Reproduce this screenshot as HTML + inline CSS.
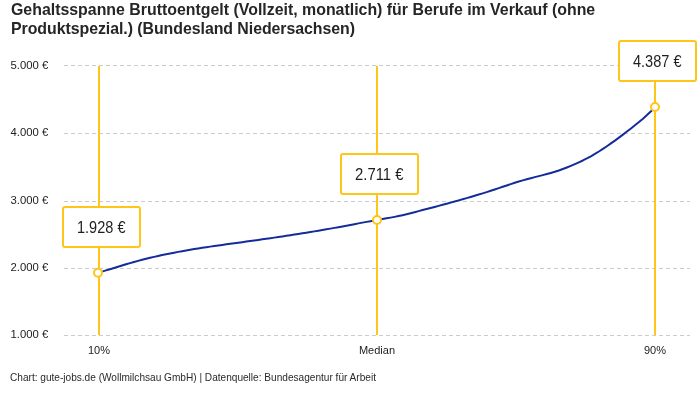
<!DOCTYPE html>
<html><head><meta charset="utf-8">
<style>
html,body{margin:0;padding:0;background:#fff;}
body{width:700px;height:400px;overflow:hidden;position:relative;font-family:"Liberation Sans",sans-serif;}
.title{position:absolute;left:11px;top:0px;font-size:15.9px;font-weight:bold;line-height:19.5px;color:#262626;white-space:nowrap;}
.foot{position:absolute;left:10px;top:370.5px;font-size:10.1px;line-height:14px;color:#2a2a2a;white-space:nowrap;}
svg{position:absolute;left:0;top:0;}
.wrap{position:absolute;left:0;top:0;width:700px;height:400px;will-change:transform;}
</style></head><body><div class="wrap">
<div class="title" style="top:0px">Gehaltsspanne Bruttoentgelt (Vollzeit, monatlich) für Berufe im Verkauf (ohne</div>
<div class="title" style="top:19px;letter-spacing:-0.05px">Produktspezial.) (Bundesland Niedersachsen)</div>
<svg width="700" height="400" viewBox="0 0 700 400">
<g stroke="#cccccc" stroke-width="1" stroke-dasharray="4 3" shape-rendering="crispEdges">
<line x1="64" y1="65.5" x2="690" y2="65.5"/>
<line x1="64" y1="133.5" x2="690" y2="133.5"/>
<line x1="64" y1="201.5" x2="690" y2="201.5"/>
<line x1="64" y1="268.5" x2="690" y2="268.5"/>
<line x1="64" y1="335.5" x2="690" y2="335.5"/>
</g>
<g font-family="Liberation Sans" font-size="11.3" fill="#222">
<text x="10.5" y="68.5">5.000 €</text>
<text x="10.5" y="135.5">4.000 €</text>
<text x="10.5" y="203.5">3.000 €</text>
<text x="10.5" y="270.5">2.000 €</text>
<text x="10.5" y="337.5">1.000 €</text>
</g>
<g stroke="#ffc517" stroke-width="2">
<line x1="99" y1="66" x2="99" y2="335"/>
<line x1="377" y1="66" x2="377" y2="335"/>
<line x1="655" y1="66" x2="655" y2="335"/>
</g>
<path d="M98.00,272.81 L102.01,271.62 L106.01,270.41 L110.02,269.18 L114.03,267.95 L118.04,266.71 L122.04,265.49 L126.05,264.29 L130.06,263.12 L134.06,261.99 L138.07,260.90 L142.08,259.84 L146.09,258.82 L150.09,257.84 L154.10,256.89 L158.11,255.97 L162.12,255.09 L166.12,254.25 L170.13,253.43 L174.14,252.65 L178.14,251.89 L182.15,251.16 L186.16,250.45 L190.17,249.76 L194.17,249.10 L198.18,248.45 L202.19,247.83 L206.19,247.21 L210.20,246.62 L214.21,246.03 L218.22,245.46 L222.22,244.89 L226.23,244.33 L230.24,243.78 L234.24,243.23 L238.25,242.68 L242.26,242.14 L246.27,241.59 L250.27,241.04 L254.28,240.48 L258.29,239.92 L262.29,239.36 L266.30,238.79 L270.31,238.21 L274.32,237.63 L278.32,237.04 L282.33,236.44 L286.34,235.84 L290.35,235.23 L294.35,234.61 L298.36,233.98 L302.37,233.34 L306.37,232.70 L310.38,232.04 L314.39,231.38 L318.40,230.70 L322.40,230.02 L326.41,229.32 L330.42,228.61 L334.42,227.89 L338.43,227.16 L342.44,226.42 L346.45,225.67 L350.45,224.91 L354.46,224.15 L358.47,223.38 L362.47,222.63 L366.48,221.88 L370.49,221.15 L374.50,220.43 L378.50,219.73 L382.51,219.04 L386.52,218.35 L390.53,217.64 L394.53,216.89 L398.54,216.07 L402.55,215.18 L406.55,214.21 L410.56,213.20 L414.57,212.16 L418.58,211.12 L422.58,210.07 L426.59,209.03 L430.60,207.98 L434.60,206.93 L438.61,205.87 L442.62,204.80 L446.63,203.72 L450.63,202.63 L454.64,201.53 L458.65,200.41 L462.65,199.28 L466.66,198.13 L470.67,196.97 L474.68,195.78 L478.68,194.57 L482.69,193.34 L486.70,192.09 L490.71,190.81 L494.71,189.50 L498.72,188.16 L502.73,186.81 L506.73,185.46 L510.74,184.12 L514.75,182.82 L518.76,181.56 L522.76,180.35 L526.77,179.22 L530.78,178.16 L534.78,177.15 L538.79,176.15 L542.80,175.14 L546.81,174.09 L550.81,172.97 L554.82,171.77 L558.83,170.44 L562.83,169.01 L566.84,167.48 L570.85,165.86 L574.86,164.15 L578.86,162.37 L582.87,160.48 L586.88,158.45 L590.88,156.27 L594.89,153.94 L598.90,151.49 L602.91,148.91 L606.91,146.22 L610.92,143.44 L614.93,140.58 L618.94,137.65 L622.94,134.65 L626.95,131.58 L630.96,128.45 L634.96,125.27 L638.97,122.02 L642.98,118.64 L646.99,115.07 L650.99,111.22 L655.00,107.01" fill="none" stroke="#132c99" stroke-width="2" stroke-linejoin="round" stroke-linecap="round"/>
<g fill="#fff" stroke="#ffc517" stroke-width="2">
<rect x="63" y="207" width="77" height="40" rx="2"/>
<rect x="341" y="154" width="77" height="40" rx="2"/>
<rect x="619" y="41" width="77" height="40" rx="2"/>
<circle cx="98" cy="272.8" r="4"/>
<circle cx="377" cy="220" r="4"/>
<circle cx="655" cy="107" r="4"/>
</g>
<g font-family="Liberation Sans" font-size="15.7" fill="#1e1e1e">
<text x="77" y="233" textLength="48.5" lengthAdjust="spacingAndGlyphs">1.928 €</text>
<text x="355" y="180" textLength="48.5" lengthAdjust="spacingAndGlyphs">2.711 €</text>
<text x="633" y="67" textLength="48.5" lengthAdjust="spacingAndGlyphs">4.387 €</text>
</g>
<g font-family="Liberation Sans" font-size="11" fill="#222" text-anchor="middle">
<text x="99" y="354">10%</text>
<text x="377" y="354">Median</text>
<text x="655" y="354">90%</text>
</g>
</svg>
<div class="foot">Chart: gute-jobs.de (Wollmilchsau GmbH) | Datenquelle: Bundesagentur für Arbeit</div>
</div></body></html>
